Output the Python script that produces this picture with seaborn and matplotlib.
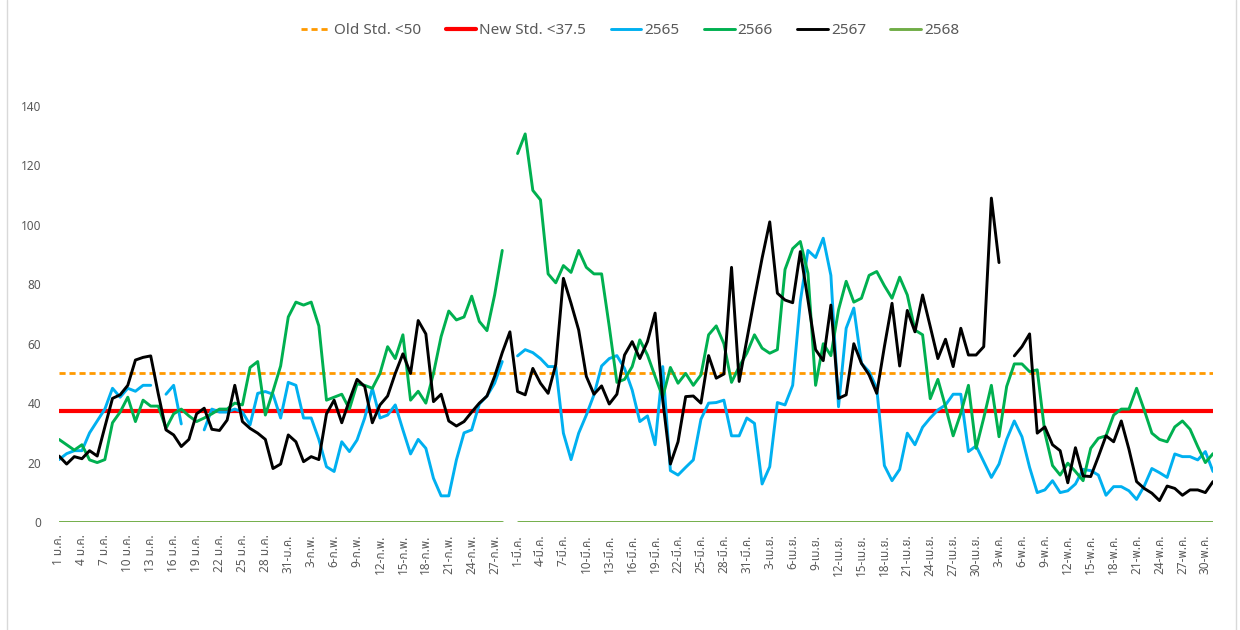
import numpy as np
import pandas as pd
import matplotlib
matplotlib.use("Agg")
import matplotlib.pyplot as plt
import seaborn as sns
from matplotlib import font_manager as fm
from matplotlib.lines import Line2D

nan = np.nan

# ---------------- data ----------------
tick_labels = [
    "1 ม.ค.", "4 ม.ค.", "7 ม.ค.", "10 ม.ค.", "13 ม.ค.", "16 ม.ค.", "19 ม.ค.", "22 ม.ค.", "25 ม.ค.", "28 ม.ค.", "31-ม.ค.",
    "3-ก.พ.", "6-ก.พ.", "9-ก.พ.", "12-ก.พ.", "15-ก.พ.", "18-ก.พ.", "21-ก.พ.", "24-ก.พ.", "27-ก.พ.",
    "1-มี.ค.", "4-มี.ค.", "7-มี.ค.", "10-มี.ค.", "13-มี.ค.", "16-มี.ค.", "19-มี.ค.", "22-มี.ค.", "25-มี.ค.", "28-มี.ค.", "31-มี.ค.",
    "3-เม.ย.", "6-เม.ย.", "9-เม.ย.", "12-เม.ย.", "15-เม.ย.", "18-เม.ย.", "21-เม.ย.", "24-เม.ย.", "27-เม.ย.", "30-เม.ย.",
    "3-พ.ค.", "6-พ.ค.", "9-พ.ค.", "12-พ.ค.", "15-พ.ค.", "18-พ.ค.", "21-พ.ค.", "24-พ.ค.", "27-พ.ค.", "30-พ.ค.",
]

y2565 = [
    21, 23, 24, 24, 30, 34, 38, 45, 42, 45, 44, 46, 46, nan, 43, 46, 33, nan, nan, 31,
    38, 37, 37, 38, 37, 32.7, 43.3, 43.9, 43, 35, 47, 46, 35, 35, 27.8, 18.6, 17, 27, 23.7, 27.6,
    35, 45, 35, 36, 39.4, 31, 22.9, 27.8, 24.8, 14.7, 8.8, 8.8, 20.9, 30, 31, 39.7, 42.4, 46.7, 54, nan,
    55.9, 58, 57, 55, 52.3, 52.3, 29.9, 21, 29.9, 36, 42.8, 52.5, 55, 56, 51.7, 44.4, 33.8, 35.7, 26, 52.3,
    17.3, 15.8, 18.4, 20.9, 34.6, 40, 40.2, 41, 29, 29, 35, 33.2, 12.8, 18.6, 40.2, 39.4, 46, 74.2, 91.4, 89,
    95.5, 83, 38.8, 65.2, 72, 53.4, 50.6, 45, 19, 13.9, 17.7, 29.9, 26, 31.9, 35, 37.7, 39.4, 43, 43, 23.7,
    25.6, 20.3, 15, 19.5, 27.8, 34, 28.7, 18.4, 9.9, 10.8, 13.9, 9.9, 10.5, 12.8, 17.7, 17.3, 15.8, 9, 11.9, 11.9,
    10.5, 7.6, 12.1, 18, 16.6, 15, 22.9, 22, 22, 20.9, 23.7, 17,
]

y2566 = [
    27.8, 26, 24.2, 26, 20.9, 20, 21, 33.4, 37, 42, 33.8, 41, 39, 39, 31.5, 36.4, 38, 35.7, 33.8, 35,
    36.4, 38, 38, 40, 39.4, 52, 54, 36, 44, 52.5, 69, 74, 73, 74, 66, 41, 42, 43, 38, 46.5,
    46, 45, 50, 59, 55, 63, 41, 44, 40, 50, 62.4, 71, 68, 69, 76, 67.5, 64.4, 76.4, 91.4, nan,
    124, 130.6, 111.6, 108.4, 83.5, 80.5, 86.3, 84, 91.4, 85.7, 83.5, 83.5, 65.8, 47, 48, 52.3, 61.3, 56.2, 49, 42,
    52, 46.7, 50, 46, 49.5, 63, 66, 60, 47, 52.3, 56.8, 63, 58.5, 56.8, 58, 85, 92, 94.4, 83.7, 46,
    60, 56, 71.4, 81, 74, 75.3, 83, 84.3, 79.5, 75.3, 82.4, 76.4, 64.6, 63, 41.5, 48, 38.8, 29, 36.6, 46,
    24.8, 35, 46, 28.7, 45.6, 53.2, 53.2, 50.6, 51.2, 30, 19, 15.8, 19.8, 17, 13.9, 24.8, 28.2, 29, 36, 38,
    38, 45, 37.7, 29.9, 27.8, 27, 32, 34, 31.2, 25.4, 20, 23,
]

y2567 = [
    22.2, 19.5, 22, 21.3, 24, 22.2, 32, 41.6, 42.8, 46, 54.5, 55.4, 55.9, 43, 31, 29.3, 25.4, 27.8, 36.4, 38.3,
    31.2, 30.8, 34.3, 46, 33.8, 31.5, 29.9, 27.8, 18, 19.5, 29.3, 27, 20.3, 22, 21, 36.4, 41, 33.4, 41, 48,
    45.6, 33.4, 39.4, 42.4, 50, 56.6, 50, 67.8, 63.3, 40.5, 43, 34, 32.3, 33.8, 37, 40, 42.4, 49, 57, 64,
    43.9, 42.8, 51.7, 46.7, 43.3, 53, 82, 73.6, 64.6, 49, 43, 45.8, 39.7, 43, 56.2, 60.7, 55, 60.7, 70.3, 41,
    19.5, 27, 42.2, 42.4, 40, 56, 48.4, 49.8, 85.7, 47.3, 61.3, 75.3, 88.8, 101, 77, 74.7, 73.8, 91, 74.7, 58,
    54.3, 73, 41.6, 42.8, 60, 53.4, 49.5, 43.3, 59, 73.6, 52.5, 71.2, 64, 76.4, 65.8, 55, 61.5, 52.3, 65.2, 56.2,
    56.2, 59, 109, 87.3, nan, 55.9, 59, 63.3, 29.9, 32, 26, 24, 13.2, 25, 15.5, 15.3, 22, 29, 27, 34,
    24.5, 13.6, 11.3, 9.7, 7.2, 12.1, 11.3, 9, 10.8, 10.8, 9.9, 13.6,
]

y2568 = [
    0, 0, 0, 0, 0, 0, 0, 0, 0, 0, 0, 0, 0, 0, 0, 0, 0, 0, 0, 0,
    0, 0, 0, 0, 0, 0, 0, 0, 0, 0, 0, 0, 0, 0, 0, 0, 0, 0, 0, 0,
    0, 0, 0, 0, 0, 0, 0, 0, 0, 0, 0, 0, 0, 0, 0, 0, 0, 0, 0, nan,
    0, 0, 0, 0, 0, 0, 0, 0, 0, 0, 0, 0, 0, 0, 0, 0, 0, 0, 0, 0,
    0, 0, 0, 0, 0, 0, 0, 0, 0, 0, 0, 0, 0, 0, 0, 0, 0, 0, 0, 0,
    0, 0, 0, 0, 0, 0, 0, 0, 0, 0, 0, 0, 0, 0, 0, 0, 0, 0, 0, 0,
    0, 0, 0, 0, 0, 0, 0, 0, 0, 0, 0, 0, 0, 0, 0, 0, 0, 0, 0, 0,
    0, 0, 0, 0, 0, 0, 0, 0, 0, 0, 0, 0,
]

old_std = 50
new_std = 37.5
y_ticks = [0, 20, 40, 60, 80, 100, 120, 140]

# ---------------- fonts ----------------
def find_thai_font():
    preferred = ["Tahoma", "Leelawadee UI", "Noto Sans Thai", "Noto Sans Thai UI", "Sarabun",
                 "Loma", "Garuda", "Waree", "Umpush", "Kinnari", "Norasi", "Laksaman", "Tlwg Typo"]
    names = {f.name for f in fm.fontManager.ttflist}
    for p in preferred:
        if p in names:
            return p
    try:
        from fontTools.ttLib import TTFont
    except Exception:
        return None
    for f in sorted(fm.fontManager.ttflist, key=lambda f: f.name):
        try:
            tt = TTFont(f.fname, fontNumber=0, lazy=True)
            cmap = tt.getBestCmap() or {}
            if 0x0E21 in cmap and 0x0E04 in cmap and 0x0E1E in cmap:
                return f.name
        except Exception:
            continue
    return None

sns.set_theme(style="white")
thai = find_thai_font()
fams = ([thai] if thai else []) + ["DejaVu Sans"]
plt.rcParams["font.family"] = fams

# ---------------- figure ----------------
W, H = 1240, 630
fig = plt.figure(figsize=(W / 100, H / 100), dpi=100)
fig.patch.set_facecolor("white")
ax = fig.add_axes([59 / W, 1 - 522 / H, (1213 - 59) / W, (522 - 106) / H])

n = len(y2565)
x = np.arange(n)

def draw(vals, color, lw, ls="-", z=2):
    s = pd.Series(vals, dtype=float)
    df = pd.DataFrame({"x": x, "y": s, "g": s.isna().cumsum()}).dropna()
    for _, d in df.groupby("g"):
        if len(d) < 2:
            continue
        sns.lineplot(data=d, x="x", y="y", ax=ax, color=color, linewidth=lw, linestyle=ls,
                     estimator=None, errorbar=None, legend=False, zorder=z)
    return Line2D([], [], color=color, lw=lw, ls=ls)

h_old = draw([old_std] * n, "#FF9900", 2.0, (0, (2.2, 1.4)), 2)
h_new = draw([new_std] * n, "#FF0000", 3.0, "-", 3)
h65 = draw(y2565, "#00B0F0", 2.1, "-", 4)
h66 = draw(y2566, "#00B050", 2.1, "-", 5)
h67 = draw(y2567, "#000000", 2.1, "-", 6)
h68 = draw(y2568, "#70AD47", 2.1, "-", 7)

ax.set_xlim(0, n - 1)
ax.set_ylim(0, 140)
ax.set_yticks(y_ticks)
ax.set_yticklabels([str(v) for v in y_ticks])
ax.set_xticks(x[::3])
ax.set_xticklabels(tick_labels, rotation=90)
ax.tick_params(axis="x", length=0, pad=9, labelsize=8.5, labelcolor="#595959")
ax.tick_params(axis="y", length=0, pad=13, labelsize=8.5, labelcolor="#595959")
ax.set_xlabel("")
ax.set_ylabel("")
for sp in ax.spines.values():
    sp.set_visible(False)
ax.grid(False)

fig.legend([h_old, h_new, h65, h66, h67, h68],
           ["Old Std. <50", "New Std. <37.5", "2565", "2566", "2567", "2568"],
           loc="center", bbox_to_anchor=(0.508, 1 - 31 / H), ncol=6, frameon=False,
           fontsize=11, handlelength=2.0, handletextpad=0.2, columnspacing=1.6,
           labelcolor="#595959")

# chart border
fig.add_artist(Line2D([7 / W, 7 / W], [0, 1], color="#D9D9D9", lw=1, transform=fig.transFigure))
fig.add_artist(Line2D([1236 / W, 1236 / W], [0, 1], color="#D9D9D9", lw=1, transform=fig.transFigure))

fig.savefig("out.png", dpi=100, facecolor="white")
